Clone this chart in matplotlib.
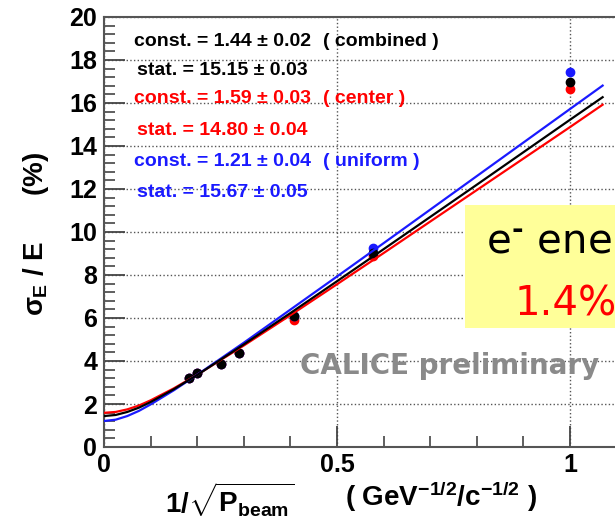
import numpy as np
import matplotlib
matplotlib.use("Agg")
import matplotlib.pyplot as plt
from matplotlib.patches import Rectangle
from matplotlib.ticker import MultipleLocator

plt.rcParams['font.family'] = ['Liberation Sans', 'DejaVu Sans']
plt.rcParams['font.weight'] = 'bold'
plt.rcParams['mathtext.fontset'] = 'custom'
plt.rcParams['mathtext.rm'] = 'Liberation Sans:bold'
plt.rcParams['mathtext.it'] = 'Liberation Sans:bold'
plt.rcParams['mathtext.bf'] = 'Liberation Sans:bold'

# 1/sqrt(P_beam) of the beam points
x_pts = [0.183, 0.200, 0.250, 0.289, 0.408, 0.577, 1.000]
# sigma_E / E (%)
y_combined = [3.20, 3.45, 3.85, 4.35, 6.10, 9.00, 16.98]
y_center = [3.20, 3.45, 3.85, 4.35, 5.92, 8.90, 16.65]
y_uniform = [3.20, 3.45, 3.85, 4.35, 6.10, 9.26, 17.44]

# fitted curves, read along x
x_fit = [0.0, 0.025, 0.05, 0.075, 0.1, 0.15, 0.2, 0.3, 0.4, 0.5, 0.6, 0.8, 1.0, 1.07]
fit_combined = [1.44, 1.49, 1.63, 1.83, 2.09, 2.69, 3.35, 4.77, 6.23, 7.71, 9.20, 12.20, 15.22, 16.27]
fit_center = [1.59, 1.63, 1.75, 1.93, 2.17, 2.73, 3.36, 4.72, 6.13, 7.57, 9.02, 11.95, 14.88, 15.92]
fit_uniform = [1.21, 1.27, 1.44, 1.68, 1.98, 2.64, 3.36, 4.85, 6.39, 7.93, 9.48, 12.60, 15.72, 16.81]

labels_const = ["const. = 1.44 \u00b1 0.02", "const. = 1.59 \u00b1 0.03", "const. = 1.21 \u00b1 0.04"]
labels_stat = ["stat. = 15.15 \u00b1 0.03", "stat. = 14.80 \u00b1 0.04", "stat. = 15.67 \u00b1 0.05"]
tags = ["( combined )", "( center )", "( uniform )"]

c_black, c_red, c_blue = 'black', '#ff0000', '#1a1aff'

fig = plt.figure(figsize=(6.15, 5.28), dpi=100)
ax = fig.add_axes([104/615, 1-447/528, 1.2*466/615, 430/528])
ax.set_xlim(0, 1.2)
ax.set_ylim(0, 20)

ax.plot(x_pts, y_center, 'o', color=c_red, ms=6, zorder=3)
ax.plot(x_pts, y_uniform, 'o', color=c_blue, ms=6, zorder=3)
ax.plot(x_pts, y_combined, 'o', color=c_black, ms=6, zorder=4)
ax.plot(x_fit, fit_center, '-', color=c_red, lw=1.6, zorder=5)
ax.plot(x_fit, fit_uniform, '-', color=c_blue, lw=1.6, zorder=5)
ax.plot(x_fit, fit_combined, '-', color=c_black, lw=1.6, zorder=6)

ax.xaxis.set_major_locator(MultipleLocator(0.5))
ax.xaxis.set_minor_locator(MultipleLocator(0.1))
ax.yaxis.set_major_locator(MultipleLocator(2))
ax.yaxis.set_minor_locator(MultipleLocator(0.4))
ax.set_xticks([0, 0.5, 1])
ax.set_xticklabels(['0', '0.5', '1'])
ax.tick_params(which='both', direction='in', colors='#444444', labelcolor='black',
               labelsize=18, top=False, right=False)
ax.tick_params(which='major', length=15, width=1.3)
ax.tick_params(which='minor', length=8, width=1.2)
ax.tick_params(axis='y', pad=5)
ax.tick_params(axis='x', pad=4)
ax.grid(True, which='major', linestyle=':', color='#555555', lw=1)
for s in ax.spines.values():
    s.set_color('#555555')
    s.set_linewidth(1.5)

# fit parameter texts
colors = [c_black, c_red, c_blue]
ys = [18.84, 17.53, 16.23, 14.74, 13.26, 11.86]
for i in range(3):
    ax.text(0.2535, ys[2*i], labels_const[i], color=colors[i], fontsize=14,
            ha='center', va='center', zorder=7)
    ax.text(0.2535, ys[2*i+1], labels_stat[i], color=colors[i], fontsize=14,
            ha='center', va='center', zorder=7)
    ax.text(0.47, ys[2*i], tags[i], color=colors[i], fontsize=14,
            ha='left', va='center', zorder=7)

ax.text(0.42, 3.75, "CALICE preliminary", color='#8a8a8a', fontsize=20,
        family='DejaVu Sans', weight='bold', ha='left', va='center', zorder=2)

# yellow box
fig.patches.append(Rectangle((465/615, 1-328/528), 200/615, 123/528,
                             transform=fig.transFigure, facecolor='#ffff99',
                             edgecolor='none', zorder=10))
fig.text(486/615, 1-243/528, "e$^{\u2010}$ ene", color='black', fontsize=29,
         family='DejaVu Sans', weight='normal', ha='left', va='center', zorder=11,
         math_fontfamily='dejavusans')
fig.text(515/615, 1-305/528, "1.4%", color='red', fontsize=29,
         family='DejaVu Sans', weight='normal', ha='left', va='center', zorder=11)

# axis titles
fig.text(36/615, 1-234/528, r"$\sigma_{\rm E}$ / E      (%)", rotation=90,
         fontsize=20, ha='center', va='center')
fig.text(165/615, 1-500/528, r"1/$\sqrt{\rm P_{beam}}$", fontsize=20,
         ha='left', va='center')
fig.text(345/615, 1-497/528, "( GeV$^{-1/2}$/c$^{-1/2}$ )", fontsize=20,
         ha='left', va='center')

fig.savefig("out.png", dpi=100)
